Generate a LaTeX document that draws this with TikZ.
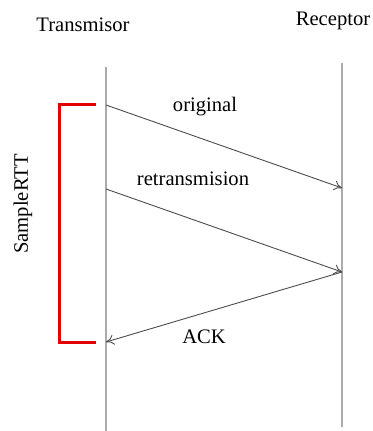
\documentclass[tikz,border=0pt]{standalone}
\usepackage{fontspec}
\setmainfont{Liberation Serif}
\usetikzlibrary{arrows.meta}
\begin{document}
\begin{tikzpicture}[x=0.5pt,y=-0.5pt,
  lifeline/.style={draw=black!33, line width=1pt},
  msg/.style={draw=black!70, line width=0.45pt, -{To[length=4pt,width=5pt]}},
  lbl/.style={font=\fontsize{10.3}{12}\selectfont, inner sep=1pt},
  rttbar/.style={draw=red!90!black, line width=1.5pt}]
\useasboundingbox (0,0) rectangle (372,431);
% headers
\node[lbl] (tx) at (83,25) {Transmisor};
\node[lbl] (rx) at (333,21) {Receptor};
% lifelines
\coordinate (ltop) at (106,67);
\coordinate (lbot) at (106,431);
\coordinate (rtop) at (342,63);
\coordinate (rbot) at (342,427);
\draw[lifeline] (ltop) -- (lbot);
\draw[lifeline] (rtop) -- (rbot);
% events
\coordinate (s1) at (106,105);
\coordinate (r1) at (342,188);
\coordinate (s2) at (106,189);
\coordinate (r2) at (342,272);
\coordinate (a1) at (106,342);
\draw[msg] (s1) -- (r1);
\draw[msg] (s2) -- (r2);
\draw[msg] (r2) -- (a1);
\node[lbl] (lorig) at (205,107) {original};
\node[lbl] (lretx) at (193,179) {retransmision};
\node[lbl] (lack) at (204,337) {ACK};
% SampleRTT bracket
\coordinate (b1) at (96,105);
\coordinate (b2) at (59,105);
\coordinate (b3) at (59,342);
\coordinate (b4) at (96,342);
\draw[rttbar] (b1) -- (b2) -- (b3) -- (b4);
\node[lbl, rotate=90] (lrtt) at (23,204) {SampleRTT};
\end{tikzpicture}
\end{document}
